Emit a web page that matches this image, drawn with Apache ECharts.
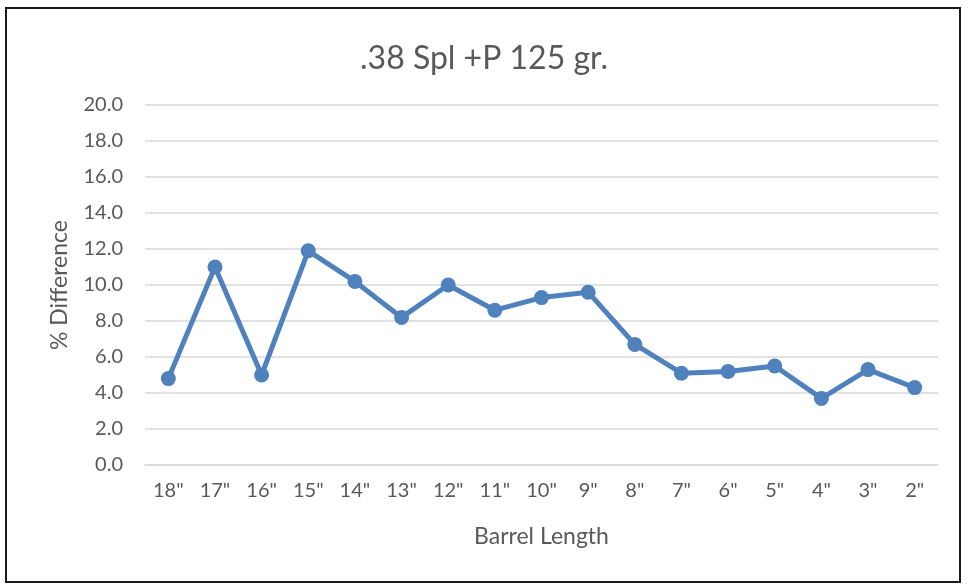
<!DOCTYPE html>
<html><head><meta charset="utf-8">
<script src="https://cdn.jsdelivr.net/npm/echarts@6/dist/echarts.min.js"></script>
<style>html,body{margin:0;padding:0;background:#fff}#c{width:968px;height:586px}
#frame{position:absolute;left:5px;top:7px;width:956px;height:576px;border:2px solid #1a1a1a;pointer-events:none;box-sizing:border-box}</style>
</head><body><div id="c"></div><div id="frame"></div>
<script>
const categories = ['18"','17"','16"','15"','14"','13"','12"','11"','10"','9"','8"','7"','6"','5"','4"','3"','2"'];
const values = [4.8, 11.0, 5.0, 11.9, 10.2, 8.2, 10.0, 8.6, 9.3, 9.6, 6.7, 5.1, 5.2, 5.5, 3.7, 5.3, 4.3];
const chart = echarts.init(document.getElementById('c'));
const font = 'Lato, "Open Sans", sans-serif';
chart.setOption({
  animation:false,
  title:{text:'.38 Spl +P 125 gr.',left:'center',top:38,textStyle:{fontFamily:font,fontSize:32,fontWeight:'normal',color:'#595959'}},
  grid:{left:145,right:30,top:105,bottom:121},
  xAxis:{type:'category',data:categories,boundaryGap:true,
    name:'Barrel Length',nameLocation:'middle',nameGap:60,
    nameTextStyle:{fontFamily:font,fontSize:23,color:'#595959'},
    axisLine:{lineStyle:{color:'#d9d9d9',width:1.5}},axisTick:{show:false},
    axisLabel:{fontFamily:font,fontSize:20,color:'#595959',margin:16}},
  yAxis:{type:'value',min:0,max:20,interval:2,
    name:'% Difference',nameLocation:'middle',nameGap:74,
    nameTextStyle:{fontFamily:font,fontSize:23,color:'#595959'},
    axisLine:{show:false},axisTick:{show:false},
    splitLine:{lineStyle:{color:'#d9d9d9',width:1.5}},
    axisLabel:{fontFamily:font,fontSize:20,color:'#595959',margin:22,formatter:v=>v.toFixed(1)}},
  series:[{type:'line',data:values,symbol:'circle',symbolSize:15,
    lineStyle:{color:'#4f81bd',width:5},itemStyle:{color:'#4f81bd'}}]
});
</script></body></html>
